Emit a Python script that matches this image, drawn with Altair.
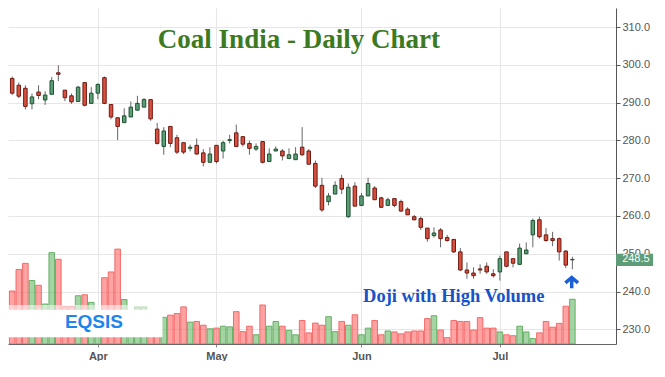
import altair as alt
import pandas as pd

# ---------------- data ----------------
opens = [296.4, 294.6, 293.8, 289.7, 292.8, 290.7, 292.2, 297.9, 293.3, 291.8,
         290.3, 295.3, 289.8, 292.5, 296.6, 289.5, 286.0, 284.7, 286.2, 288.0,
         288.8, 290.8, 283.0, 278.4, 283.7, 280.7, 279.4, 277.9, 278.7, 276.7,
         274.2, 278.7, 277.2, 280.0, 282.0, 281.0, 279.2, 277.7, 279.7, 274.4,
         277.2, 277.2, 275.2, 274.9, 278.2, 277.2, 273.9, 268.1, 263.8, 265.8,
         269.9, 259.8, 267.9, 262.8, 265.3, 267.4, 264.8, 262.8, 264.6, 263.8,
         261.8, 259.8, 259.3, 256.8, 254.8, 256.3, 254.3, 253.8, 250.5, 245.7,
         244.9, 246.0, 246.7, 244.7, 245.2, 250.5, 248.7, 247.2, 250.0, 255.0,
         259.0, 255.0, 254.0, 254.0, 250.7, 248.4]
highs = [296.9, 295.3, 294.6, 292.4, 294.6, 293.0, 296.8, 299.9, 293.3, 292.4,
         294.4, 295.3, 294.1, 295.1, 296.9, 289.5, 286.0, 288.5, 290.3, 291.8,
         291.2, 290.8, 284.6, 283.5, 283.7, 281.5, 279.4, 278.9, 280.5, 277.7,
         278.2, 278.7, 279.9, 281.5, 284.2, 281.0, 279.9, 279.2, 279.7, 277.9,
         278.4, 277.7, 277.9, 278.2, 283.5, 277.7, 274.7, 270.1, 266.1, 269.2,
         270.9, 268.6, 268.9, 266.1, 270.1, 267.9, 265.1, 264.8, 264.6, 264.3,
         262.3, 260.3, 259.8, 256.8, 257.0, 256.8, 255.0, 253.8, 251.5, 247.7,
         246.4, 247.2, 247.7, 245.9, 249.5, 250.5, 248.7, 252.7, 253.0, 259.3,
         259.8, 256.8, 255.8, 254.3, 251.0, 249.2]
lows = [292.0, 291.2, 288.2, 288.2, 290.9, 289.4, 292.2, 295.7, 290.4, 289.7,
        290.2, 289.0, 289.8, 290.9, 289.6, 285.6, 280.1, 284.7, 286.2, 288.0,
        288.8, 285.2, 278.9, 276.2, 278.2, 276.4, 276.4, 277.1, 276.2, 273.1,
        274.2, 273.9, 275.2, 279.2, 278.2, 278.4, 276.2, 277.2, 273.9, 274.4,
        277.2, 274.7, 275.2, 274.9, 275.9, 273.7, 267.4, 261.1, 262.8, 265.8,
        265.8, 259.5, 262.6, 262.8, 265.3, 264.3, 262.1, 262.6, 262.3, 261.1,
        260.3, 258.8, 256.3, 253.2, 254.3, 251.7, 253.2, 250.2, 245.4, 243.4,
        243.4, 244.7, 244.7, 243.7, 242.9, 246.4, 246.4, 247.2, 250.0, 251.7,
        254.0, 253.2, 252.0, 248.2, 246.2, 245.9]
closes = [292.5, 291.7, 289.0, 291.5, 291.9, 292.0, 295.8, 297.5, 291.3, 290.2,
          294.1, 289.3, 292.5, 294.8, 289.8, 286.2, 283.7, 286.5, 288.8, 289.8,
          290.8, 285.7, 279.2, 282.5, 279.2, 276.9, 276.9, 278.2, 276.4, 274.2,
          276.4, 274.4, 279.4, 280.2, 278.4, 279.0, 277.9, 278.4, 274.2, 276.4,
          277.7, 275.9, 276.2, 276.4, 276.2, 273.7, 267.9, 261.6, 265.3, 268.1,
          267.1, 267.6, 262.6, 265.3, 268.6, 264.3, 262.3, 264.3, 262.8, 261.3,
          260.3, 259.0, 257.0, 254.0, 255.5, 254.0, 253.5, 250.5, 245.7, 244.9,
          244.2, 245.7, 245.2, 244.2, 248.7, 246.7, 247.5, 251.5, 251.0, 258.8,
          254.5, 253.5, 253.5, 250.5, 247.0, 248.5]
# volume, millions of shares
volumes = [5.57, 7.83, 8.47, 6.67, 6.17, 4.20, 9.60, 8.90, 3.95, 3.95,
           5.07, 5.17, 4.37, 2.80, 6.97, 7.57, 9.97, 4.67, 3.00, 3.90,
           3.90, 3.00, 3.20, 2.80, 3.03, 3.20, 3.90, 2.30, 2.37, 1.97,
           1.60, 1.67, 1.87, 1.80, 3.40, 1.30, 1.87, 0.97, 4.10, 1.87,
           2.37, 1.87, 1.43, 0.97, 2.47, 1.17, 2.20, 1.97, 2.87, 1.30,
           2.37, 1.97, 3.07, 0.97, 1.67, 2.47, 0.97, 1.37, 1.27, 1.07,
           1.27, 1.37, 1.37, 2.67, 2.97, 1.47, 0.67, 2.47, 2.37, 2.37,
           1.47, 2.77, 1.67, 1.67, 1.27, 0.97, 0.87, 1.87, 1.27, 0.57,
           1.17, 2.37, 1.77, 2.17, 3.97, 4.70]
month_labels = ["Apr", "May", "Jun", "Jul"]
month_index = [13, 31, 53, 74]
price_ticks = [230, 240, 250, 260, 270, 280, 290, 300, 310]
last_price = 248.5
title_text = "Coal India - Daily Chart"
note_text = "Doji with High Volume"
brand_text = "EQSIS"

# ---------------- layout / style ----------------
W, H = 608, 336
X_MIN, X_MAX = -0.637, 91.62
P_MIN, P_MAX = 226.12, 315.04
V_MAX = 35.3
step = W / (X_MAX - X_MIN)

RED, RED_EDGE = "#d9503f", "#6e1a12"
GREEN, GREEN_EDGE = "#5c9e76", "#1e5132"
WICK = "#666666"
FONT = "Liberation Sans"
SERIF = "Liberation Serif"

df = pd.DataFrame({
    "i": list(range(len(opens))),
    "open": opens, "high": highs, "low": lows, "close": closes,
    "volume": volumes,
})

xscale = alt.Scale(domain=[X_MIN, X_MAX], nice=False, zero=False, padding=0)
pscale = alt.Scale(domain=[P_MIN, P_MAX], nice=False, zero=False, padding=0)
vscale = alt.Scale(domain=[0, V_MAX], nice=False, zero=False, padding=0)

label_expr = " : ".join(
    f"datum.value == {i} ? '{m}'" for i, m in zip(month_index, month_labels)
) + " : ''"

x_axis = alt.Axis(values=month_index, labelExpr=label_expr, grid=True,
                  gridColor="#e6e6e6", domainColor="#666", tickColor="#888",
                  tickSize=3, labelPadding=3, labelFont=FONT, labelFontSize=11,
                  labelFontWeight="bold", labelColor="#555", title=None)
y_axis = alt.Axis(orient="right", values=price_ticks, format=".1f", grid=True,
                  gridColor="#e6e6e6", domainColor="#555", tickColor="#555",
                  tickSize=4, labelPadding=2, labelFont=FONT, labelFontSize=11,
                  labelColor="#555", title=None)


def X(field):
    return alt.X(field, scale=xscale, axis=x_axis)


def P(field):
    return alt.Y(field, scale=pscale, axis=y_axis)


up = "datum.close > datum.open"
base = alt.Chart(df)

# volume layer
vol = base.mark_bar(size=step - 1, strokeWidth=1, fillOpacity=0.5,
                    strokeOpacity=0.85, clip=True).encode(
    x=X("i:Q"),
    y=alt.Y("volume:Q", scale=vscale, axis=None),
    y2=alt.datum(0),
    fill=alt.condition(up, alt.value("#4aa84a"), alt.value("#ff4646")),
    stroke=alt.condition(up, alt.value("#55a855"), alt.value("#f05a5a")),
)

# price layers
wick = base.mark_rule(color=WICK, strokeWidth=1, clip=True).encode(
    x=X("i:Q"), y=P("low:Q"), y2="high:Q",
)
body = base.mark_bar(size=3.5, strokeWidth=1, clip=True).encode(
    x=X("i:Q"), y=P("open:Q"), y2="close:Q",
    fill=alt.condition(up, alt.value(GREEN), alt.value(RED)),
    stroke=alt.condition(up, alt.value(GREEN_EDGE), alt.value(RED_EDGE)),
)


def txt(x, y, text, **kw):
    d = pd.DataFrame({"x": [x], "y": [y], "t": [text]})
    return alt.Chart(d).mark_text(clip=False, **kw).encode(
        x=X("x:Q"), y=P("y:Q"), text="t:N",
    )


def box(x1, x2, y1, y2, **kw):
    d = pd.DataFrame({"x": [x1], "x2": [x2], "y": [y1], "y2": [y2]})
    return alt.Chart(d).mark_rect(clip=False, **kw).encode(
        x=X("x:Q"), x2="x2:Q", y=P("y:Q"), y2="y2:Q",
    )


title = txt(43.5, 304.5, title_text, font=SERIF, fontSize=27, fontWeight="bold",
            color="#3c7a22", align="center", baseline="alphabetic")
note = txt(67.0, 237.2, note_text, font=SERIF, fontSize=18.5, fontWeight="bold",
           color="#1652c8", align="center", baseline="alphabetic")
band = box(X_MIN, 22.8, 235.27, 236.45, color="white", opacity=0.55)
brand_box = box(X_MIN, 22.8, 227.88, 235.27, color="white", opacity=1)
brand = txt(12.4, 230.4, brand_text, font=FONT, fontSize=19, fontWeight="bold",
            color="#1a86ee", align="center", baseline="alphabetic")

arrow_df = pd.DataFrame({"x": [84.9], "y": [242.3]})
arrow = alt.Chart(arrow_df).mark_point(
    shape="M-1,0 L0,-0.85 L1,0 M0,-0.85 L0,0.85", size=160, filled=False,
    strokeWidth=3.5, color="#1a5fd6", opacity=1, clip=False,
).encode(x=X("x:Q"), y=P("y:Q"))

tag = box(X_MAX, X_MAX + 5.63, 246.78, 249.98, color="#5e9c78", opacity=1)
tag_text = txt(X_MAX + 0.93, last_price, f"{last_price:.1f}", font=FONT,
               fontSize=11, color="white", align="left", baseline="middle")

price = alt.layer(wick, body, title, note, band, brand_box, brand, arrow,
                  tag, tag_text)

chart = alt.layer(vol, price).resolve_scale(y="independent").properties(
    width=W, height=H,
    padding={"left": 0, "top": 0, "right": 0, "bottom": 0},
    background="white",
).configure_view(strokeWidth=0)

chart.save("out.html", embed_options={"renderer": "svg", "actions": False})
